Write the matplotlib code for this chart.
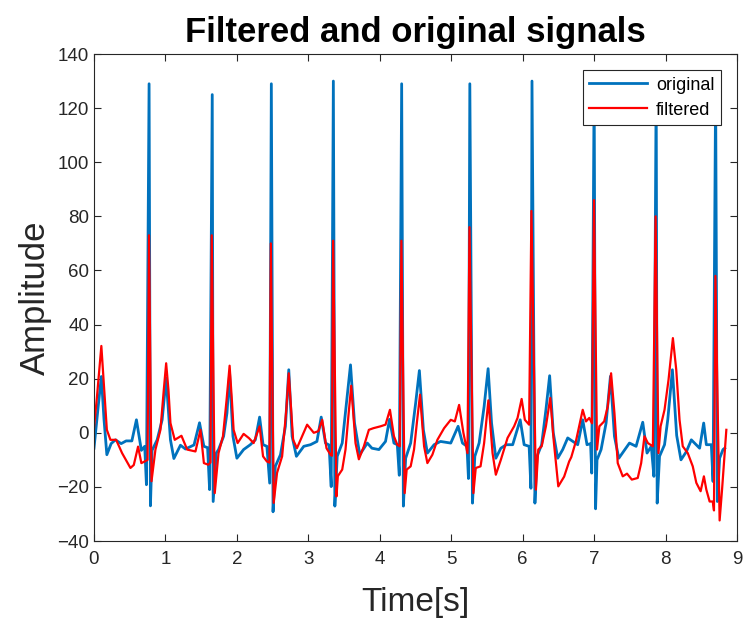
import numpy as np
import matplotlib.pyplot as plt

plt.rcParams['font.family'] = ['Liberation Sans', 'DejaVu Sans']

# original signal, key points (time [s], amplitude)
orig_t = [0.00, 0.06, 0.103, 0.14, 0.18, 0.24, 0.30, 0.38, 0.45, 0.53, 0.594, 0.663, 0.71,
          0.734, 0.771, 0.79, 0.813, 0.884, 0.954, 1.01, 1.07, 1.118, 1.21, 1.28, 1.40, 1.477,
          1.538, 1.59, 1.618, 1.655, 1.668, 1.711, 1.743, 1.814, 1.861, 1.898, 1.945, 2.00,
          2.094, 2.188, 2.258, 2.318, 2.366, 2.42, 2.459, 2.482, 2.506, 2.538, 2.61, 2.679,
          2.726, 2.773, 2.833, 2.936, 3.03, 3.12, 3.18, 3.24, 3.29, 3.32, 3.35, 3.371, 3.404,
          3.474, 3.534, 3.59, 3.646, 3.72, 3.825, 3.89, 3.988, 4.08, 4.137, 4.198, 4.245,
          4.273, 4.306, 4.33, 4.362, 4.432, 4.502, 4.554, 4.61, 4.666, 4.76, 4.85, 4.993,
          5.096, 5.157, 5.22, 5.241, 5.26, 5.297, 5.33, 5.39, 5.46, 5.516, 5.564, 5.624, 5.694,
          5.77, 5.86, 5.965, 6.02, 6.09, 6.115, 6.13, 6.171, 6.2, 6.265, 6.325, 6.377, 6.428,
          6.49, 6.56, 6.63, 6.77, 6.84, 6.90, 6.95, 6.966, 7.00, 7.02, 7.04, 7.097, 7.167,
          7.228, 7.284, 7.345, 7.43, 7.494, 7.587, 7.68, 7.74, 7.80, 7.836, 7.868, 7.882,
          7.915, 7.985, 8.03, 8.095, 8.155, 8.215, 8.29, 8.36, 8.476, 8.533, 8.57, 8.64,
          8.664, 8.70, 8.724, 8.756, 8.803, 8.827]
orig_v = [-5.7, 10, 20.8, 5, -8.1, -4, -2.6, -4, -3, -3, 4.8, -6.5, -5,
          -19.2, 129, -27, -6.5, -2.6, 4.8, 20.2, -2.6, -9.5, -4.6, -6, -4.5, 3.7,
          -5, -5.5, -21, 125, -25.4, -7.5, -6.2, -1.3, 7.3, 22.0, -1.3, -9.4,
          -6.2, -4.4, -2.6, 5.8, -4.4, -5, -18.6, 129, -29.2, -12.4, -8.1, 2.4,
          23.3, -1.3, -8.7, -5, -4.4, -3.2, 5.8, -3.8, -4.5, -19.9, 130, -27.1, -8.7,
          -3.8, 11, 25.1, 3.6, -8.1, -3.8, -5.7, -6.2, -3.2, 5, -3.8, -4.4,
          -15.7, 129, -27.1, -9.4, -3.8, 11, 23, 1.1, -7.5, -4.4, -3.2, -3.8,
          2.4, -3.8, -5, -16.9, 129, -26, -8.7, -3.8, 9.7, 23.7, 3.6, -9.4, -5.7,
          -4.4, -4.4, 4.8, -4.4, -5, -20.5, 130, -26, -8.7, -4.4, 8.5, 21.1, 0,
          -9.4, -6.2, -1.9, -4.4, 4.8, -4.4, -4, -14.9, 129, -28.1, -10, -6.2, 3.6,
          20.9, -1.3, -9.4, -6.2, -3.8, -5, 3.9, -7.5, -5, -16.1, 129, -26,
          -8.7, -4.4, 4.8, 23.3, -1, -10, -7, -2.6, -5.7, 3.6, -4.4, -4.4,
          -18, 127, -25.4, -9.4, -6.2, -5.7]

# filtered signal
filt_t = [0.00, 0.042, 0.103, 0.15, 0.18, 0.23, 0.31, 0.393, 0.51, 0.557, 0.617, 0.663, 0.71,
          0.75, 0.77, 0.805, 0.86, 0.93, 0.977, 1.01, 1.042, 1.07, 1.13, 1.224, 1.304, 1.42,
          1.49, 1.538, 1.6, 1.63, 1.648, 1.69, 1.743, 1.805, 1.855, 1.898, 1.93, 1.954, 2.01,
          2.094, 2.17, 2.234, 2.318, 2.366, 2.42, 2.455, 2.475, 2.515, 2.562, 2.633, 2.69,
          2.726, 2.76, 2.787, 2.84, 2.913, 2.983, 3.076, 3.14, 3.194, 3.254, 3.31, 3.33,
          3.347, 3.394, 3.413, 3.474, 3.52, 3.56, 3.60, 3.635, 3.66, 3.707, 3.777, 3.847,
          3.91, 4.011, 4.08, 4.142, 4.198, 4.245, 4.28, 4.302, 4.348, 4.376, 4.432, 4.479,
          4.52, 4.563, 4.595, 4.62, 4.666, 4.736, 4.806, 4.9, 4.993, 5.05, 5.11, 5.17, 5.227,
          5.255, 5.31, 5.343, 5.41, 5.46, 5.52, 5.578, 5.624, 5.694, 5.788, 5.88, 5.928,
          5.985, 6.03, 6.09, 6.122, 6.185, 6.218, 6.265, 6.325, 6.386, 6.433, 6.498, 6.58,
          6.65, 6.68, 6.746, 6.84, 6.886, 6.932, 6.97, 6.998, 7.04, 7.073, 7.14, 7.19, 7.237,
          7.284, 7.33, 7.4, 7.46, 7.527, 7.61, 7.658, 7.704, 7.752, 7.822, 7.86, 7.9, 7.93,
          7.985, 8.041, 8.102, 8.149, 8.195, 8.24, 8.31, 8.38, 8.43, 8.49, 8.536, 8.57,
          8.616, 8.66, 8.677, 8.697, 8.756, 8.79, 8.827, 8.85]
filt_v = [1.7, 13.4, 32.1, 13.4, 1.1, -2.6, -2.6, -7.5, -13, -11.9, -5.1, -11.2, -10.6,
          -10, 73, -17.9, -6.2, 1.1, 15.9, 25.7, 15.9, 3.6, -2.6, -1.1, -6.2, -6.9,
          1.1, -11.2, -11.8, -11, 73, -22.3, -7.5, -1.3, 12, 24.8, 12, 1.1, -3.8,
          -0.4, -2, -3.8, 2.4, -8.7, -10.6, -11, 70, -25.9, -14.8, -8.7, 8,
          22.0, 8, -2.6, -5.7, -1.3, 3, 0, 0.6, 4.8, -5.7, -8.1, -8.5,
          71, -23.5, -16, -13.6, -6.2, 6, 17.4, 5, -3.8, -9.8, -5, 1.1,
          1.7, 2.4, 3, 8.5, -1.3, -4.4, -5, 71, -22.3, -13.6, -12.4, -6.2,
          4, 14.1, 3, -5, -11.2, -8.1, -2.6, 1.7, 4.8, 4.2, 10.3, 0, -7.5,
          76, -22.3, -13, -12.4, -3.8, 12, -7.5, -15.5, -10, -1.9, 2.4, 5.5,
          12.5, 4.8, 3, 82, -21, -6.2, -5, 2.4, 12.9, -2.6, -19.8, -16.2,
          -10.6, -9, -3, 8.5, 4.2, 5.5, 3.5, 86, -6.2, 2.4, 4.2, 9.7, 22.0,
          7.3, -11.2, -16.1, -15.1, -17.3, -16.7, -11.2, -1.3, -3.8, -5, 80, -7.5, 2.4,
          8.5, 19.6, 35.0, 23.3, 4.8, -5, -7.5, -12.4, -18.5, -21.6, -16.1, -21,
          -25.4, -25.4, -28.7, 58, -32.4, -21, -7.5, 1.1]

x_ticks = np.arange(0, 10, 1)
y_ticks = np.arange(-40, 141, 20)

fig = plt.figure(figsize=(7.43, 6.23), dpi=100)
ax = fig.add_axes([0.1265, 0.1316, 0.8655, 0.7817])

ax.plot(orig_t, orig_v, color='#0072BD', lw=2.0, label='original')
ax.plot(filt_t, filt_v, color='#FF0000', lw=1.6, label='filtered')

ax.set_xlim(0, 9)
ax.set_ylim(-40, 140)
ax.set_xticks(x_ticks)
ax.set_yticks(y_ticks)
ax.tick_params(direction='in', top=True, right=True, labelsize=13.5,
               colors='#262626', length=5, width=0.8)
ax.tick_params(axis='x', pad=7)
for s in ax.spines.values():
    s.set_color('#262626')
    s.set_linewidth(0.8)

ax.set_title('Filtered and original signals', fontsize=25, fontweight='bold', pad=9)
ax.set_xlabel('Time[s]', fontsize=24, color='#262626', labelpad=14)
ax.set_ylabel('Amplitude', fontsize=25, color='#262626', labelpad=4)

leg = ax.legend(loc='upper right', fontsize=13, fancybox=False, handlelength=3.2,
                borderaxespad=0.9, framealpha=1, labelspacing=0.45,
                handletextpad=0.5, borderpad=0.35)
leg.get_frame().set_edgecolor('#262626')
leg.get_frame().set_linewidth(0.8)

fig.savefig('out.png', dpi=100)
